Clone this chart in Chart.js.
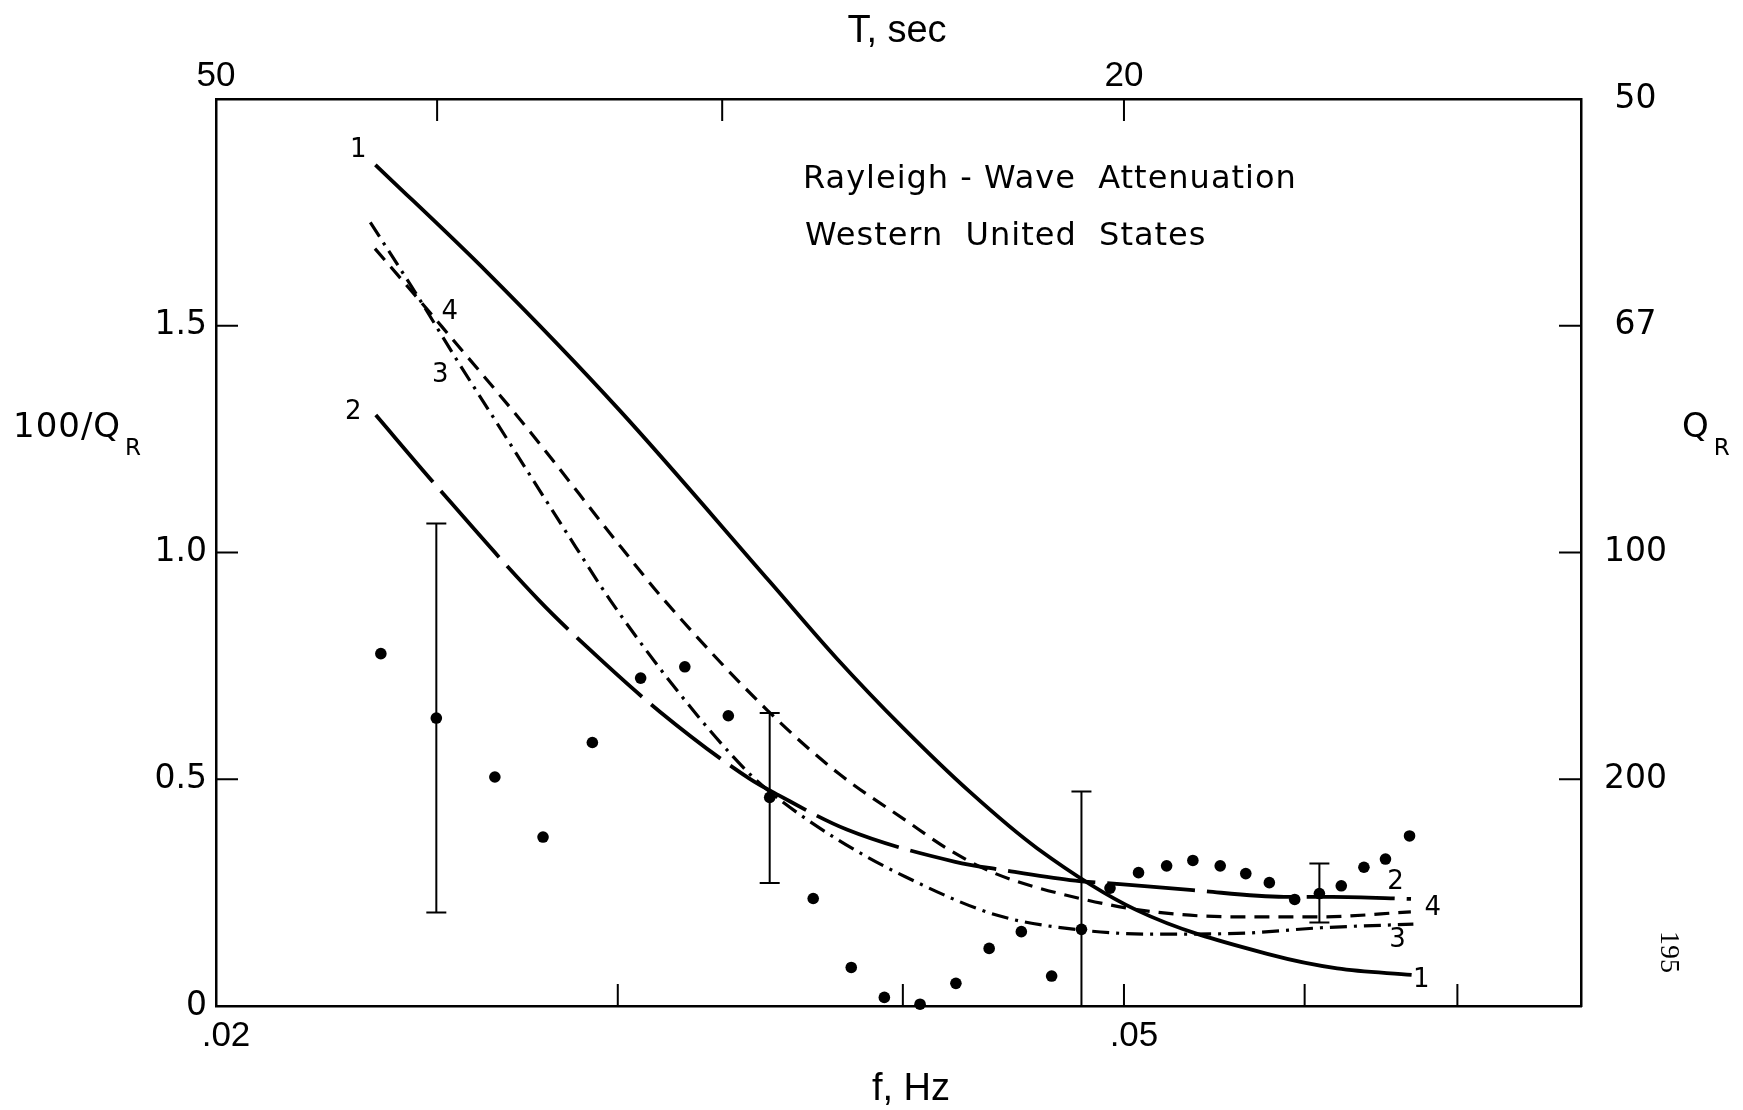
<!DOCTYPE html>
<html>
<head>
<meta charset="utf-8">
<script src="https://cdn.jsdelivr.net/npm/chart.js@4.4.1/dist/chart.umd.min.js"></script>
<style>
  html, body { margin: 0; padding: 0; background: #fff; }
  canvas { display: block; }
</style>
</head>
<body>
<canvas id="c" width="1743" height="1110"></canvas>
<script>
// ---------------- DATA ----------------
// frequency axis range (Hz)
const F_MIN = 0.02;
const F_MAX = 0.0793;
const INVQ_MIN = 0;
const INVQ_MAX = 2.0;

// bottom axis ticks (f, Hz)
const fTickValues = [0.02, 0.03, 0.04, 0.05, 0.06, 0.07];
const fTickLabels = ['.02', '', '', '.05', '', ''];
// top axis ticks (period T, sec)
const periodTickValues = [50, 40, 30, 20];
const periodTickLabels = ['50', '', '', '20'];
// left axis ticks (100/Q_R)
const invQTickValues = [0, 0.5, 1.0, 1.5];
const invQTickLabels = ['0', '0.5', '1.0', '1.5'];
// right axis ticks (Q_R)
const qTickValues = [0.5, 1.0, 1.5, 2.0];
const qTickLabels = ['200', '100', '67', '50'];

// curve 1 (solid)
const curve1F = [0.02349, 0.02633, 0.03005, 0.03497, 0.03741, 0.04002, 0.0428, 0.0458, 0.05067, 0.05801, 0.062, 0.06684];
const curve1V = [1.855, 1.615, 1.314, 0.936, 0.767, 0.6127, 0.472, 0.348, 0.2108, 0.1127, 0.083, 0.0686];

// curve 2 (long dashes)
const curve2F = [0.0235, 0.02496, 0.0277, 0.02912, 0.0313, 0.03425, 0.03528, 0.0378, 0.04217, 0.04427, 0.04735, 0.0498, 0.0536, 0.05877, 0.0617, 0.0668];
const curve2V = [1.303, 1.149, 0.895, 0.789, 0.649, 0.502, 0.465, 0.389, 0.318, 0.2996, 0.2775, 0.2686, 0.2554, 0.2407, 0.2407, 0.236];

// curve 3 (dash-dot)
const curve3F = [0.02337, 0.02455, 0.0255, 0.02652, 0.02875, 0.02977, 0.03201, 0.03425, 0.0352, 0.03748, 0.0401, 0.044, 0.0479, 0.0515, 0.05604, 0.06098, 0.06696];
const curve3V = [1.728, 1.56, 1.425, 1.29, 1.0125, 0.895, 0.682, 0.513, 0.461, 0.366, 0.285, 0.200, 0.1674, 0.1585, 0.160, 0.1725, 0.1806];

// curve 4 (short dashes)
const curve4F = [0.02348, 0.02455, 0.02512, 0.02742, 0.03009, 0.03144, 0.03488, 0.03748, 0.0401, 0.04194, 0.0439, 0.04782, 0.0515, 0.05604, 0.061, 0.06679];
const curve4V = [1.670, 1.557, 1.498, 1.27, 1.0125, 0.895, 0.6525, 0.513, 0.41, 0.3436, 0.2923, 0.2372, 0.2077, 0.1966, 0.1966, 0.2077];

// observed values (dots)
const obsF = [0.02362, 0.0265, 0.02782, 0.02924, 0.0307, 0.0321, 0.03354, 0.03654, 0.03797, 0.03926, 0.0407, 0.0422, 0.04364, 0.04508, 0.04648, 0.0493, 0.05074, 0.0522, 0.0536, 0.0551, 0.05654, 0.0579, 0.0594, 0.06226, 0.0637, 0.0651, 0.0667];
const obsV = [0.777, 0.505, 0.3725, 0.581, 0.723, 0.748, 0.640, 0.237, 0.085, 0.019, 0.004, 0.050, 0.127, 0.164, 0.066, 0.260, 0.294, 0.309, 0.321, 0.309, 0.292, 0.272, 0.235, 0.265, 0.306, 0.324, 0.375];

// values with error bars
const errF  = [0.02498, 0.03497, 0.0479, 0.0609];
const errV  = [0.635, 0.460, 0.169, 0.248];
const errLo = [0.206, 0.271, 0.0, 0.184];
const errHi = [1.064, 0.646, 0.473, 0.314];

// curve number labels: text and anchor (f, 100/Q)
const curveLabelText = ['1', '2', '3', '4', '2', '4', '3', '1'];
const curveLabelF = [0.02309, 0.02297, 0.02508, 0.02532, 0.06577, 0.06828, 0.06589, 0.0675];
const curveLabelV = [1.8875, 1.310, 1.391, 1.530, 0.2734, 0.2161, 0.1455, 0.0573];

// ---------------- CHART ----------------
const toXY = (fs, vs) => fs.map((f, i) => ({ x: f, y: vs[i] }));

const DEJAVU = '"DejaVu Sans", "Noto Sans", sans-serif';
const LIBSANS = '"Liberation Sans", Arial, sans-serif';
const TICK_IN = 22;

const lineBase = {
  borderColor: '#000',
  backgroundColor: '#000',
  pointRadius: 0,
  fill: false,
  cubicInterpolationMode: 'monotone',
  borderCapStyle: 'butt',
  borderJoinStyle: 'round'
};

const decorations = {
  id: 'decorations',
  afterDatasetsDraw(chart) {
    const { ctx, chartArea: ca } = chart;
    const { x, y, x2, y2 } = chart.scales;
    ctx.save();
    ctx.strokeStyle = '#000';
    ctx.fillStyle = '#000';

    // error bars
    ctx.lineWidth = 2;
    errF.forEach((f, i) => {
      const px = x.getPixelForValue(f);
      const pLo = y.getPixelForValue(errLo[i]);
      const pHi = y.getPixelForValue(errHi[i]);
      ctx.beginPath();
      ctx.moveTo(px, pLo); ctx.lineTo(px, pHi);
      ctx.moveTo(px - 10, pHi); ctx.lineTo(px + 10, pHi);
      if (errLo[i] > INVQ_MIN) { ctx.moveTo(px - 10, pLo); ctx.lineTo(px + 10, pLo); }
      ctx.stroke();
    });

    // inward tick marks
    ctx.lineWidth = 2;
    ctx.beginPath();
    x.ticks.forEach(t => {
      if (t.value <= x.min * 1.0001 || t.value >= x.max * 0.9999) return;
      const p = x.getPixelForValue(t.value);
      ctx.moveTo(p, ca.bottom); ctx.lineTo(p, ca.bottom - TICK_IN);
    });
    x2.ticks.forEach(t => {
      if (t.value <= x2.min * 1.0001 || t.value >= x2.max * 0.9999) return;
      const p = x2.getPixelForValue(t.value);
      ctx.moveTo(p, ca.top); ctx.lineTo(p, ca.top + TICK_IN);
    });
    y.ticks.forEach(t => {
      if (t.value <= y.min || t.value >= y.max) return;
      const p = y.getPixelForValue(t.value);
      ctx.moveTo(ca.left, p); ctx.lineTo(ca.left + TICK_IN, p);
    });
    y2.ticks.forEach(t => {
      if (t.value <= y2.min || t.value >= y2.max) return;
      const p = y2.getPixelForValue(t.value);
      ctx.moveTo(ca.right, p); ctx.lineTo(ca.right - TICK_IN, p);
    });
    ctx.stroke();

    // curve number labels
    ctx.font = '26px ' + DEJAVU;
    ctx.textAlign = 'center';
    ctx.textBaseline = 'middle';
    curveLabelText.forEach((t, i) => {
      ctx.fillText(t, x.getPixelForValue(curveLabelF[i]), y.getPixelForValue(curveLabelV[i]));
    });
    ctx.restore();
  },
  afterDraw(chart) {
    const { ctx } = chart;
    ctx.save();
    ctx.fillStyle = '#000';
    ctx.textBaseline = 'alphabetic';

    // chart title lines
    ctx.font = '32px ' + DEJAVU;
    ctx.textAlign = 'left';
    try { ctx.letterSpacing = '1px'; } catch (e) {}
    ctx.fillText('Rayleigh - Wave  Attenuation', 803, 188);
    ctx.fillText('Western  United  States', 805, 245);

    // left axis title 100/Q_R
    ctx.font = '34px ' + DEJAVU;
    ctx.fillText('100/Q', 13, 437);
    let w = ctx.measureText('100/Q').width;
    ctx.font = '23px ' + DEJAVU;
    ctx.fillText('R', 13 + w + 4, 455);

    // right axis title Q_R
    ctx.font = '34px ' + DEJAVU;
    ctx.fillText('Q', 1682, 437);
    w = ctx.measureText('Q').width;
    ctx.font = '23px ' + DEJAVU;
    ctx.fillText('R', 1682 + w + 4, 455);
    try { ctx.letterSpacing = '0px'; } catch (e) {}

    // top and bottom axis titles
    ctx.font = '38px ' + LIBSANS;
    ctx.textAlign = 'center';
    ctx.fillText('T, sec', 897, 42);
    ctx.fillText('f, Hz', 911, 1100);

    // page number (rotated)
    ctx.translate(1668, 952);
    ctx.rotate(Math.PI / 2);
    ctx.font = '28px "Liberation Serif", serif';
    ctx.textBaseline = 'middle';
    ctx.fillText('195', 0, 0);
    ctx.restore();
  }
};

Chart.defaults.color = '#000';

new Chart(document.getElementById('c'), {
  type: 'line',
  data: {
    datasets: [
      Object.assign({}, lineBase, { label: '1', data: toXY(curve1F, curve1V), borderWidth: 3.8 }),
      Object.assign({}, lineBase, { label: '2', data: toXY(curve2F, curve2V), borderWidth: 3.8, borderDash: [88, 12] }),
      Object.assign({}, lineBase, { label: '3', data: toXY(curve3F, curve3V), borderWidth: 3.2, borderDash: [17, 7, 3, 7] }),
      Object.assign({}, lineBase, { label: '4', data: toXY(curve4F, curve4V), borderWidth: 3.2, borderDash: [15, 9] }),
      { label: 'obs', data: toXY(obsF, obsV), showLine: false, pointRadius: 5.8, pointBorderWidth: 0,
        pointBackgroundColor: '#000', pointBorderColor: '#000', clip: false },
      { label: 'err', data: toXY(errF, errV), showLine: false, pointRadius: 5.8, pointBorderWidth: 0,
        pointBackgroundColor: '#000', pointBorderColor: '#000', clip: false }
    ]
  },
  options: {
    responsive: false,
    animation: false,
    devicePixelRatio: 1,
    layout: { padding: 0 },
    plugins: { legend: { display: false }, tooltip: { enabled: false } },
    scales: {
      x: {
        type: 'logarithmic', position: 'bottom', min: F_MIN, max: F_MAX, bounds: 'data',
        afterBuildTicks: s => { s.ticks = fTickValues.map(v => ({ value: v })); },
        afterFit: s => { s.height = 104; },
        grid: { display: true, drawOnChartArea: false, drawTicks: false },
        border: { display: true, color: '#000', width: 2.5 },
        ticks: { autoSkip: false, maxRotation: 0, minRotation: 0, padding: 9, labelOffset: 10,
          color: '#000', font: { family: LIBSANS, size: 35 },
          callback: (v, i) => fTickLabels[i] }
      },
      x2: {
        type: 'logarithmic', position: 'top', min: F_MIN, max: F_MAX, bounds: 'data',
        afterBuildTicks: s => { s.ticks = periodTickValues.map(T => ({ value: 1 / T })); },
        afterFit: s => { s.height = 99; },
        grid: { display: true, drawOnChartArea: false, drawTicks: false },
        border: { display: true, color: '#000', width: 2.5 },
        ticks: { autoSkip: false, maxRotation: 0, minRotation: 0, padding: 2,
          color: '#000', font: { family: LIBSANS, size: 35 },
          callback: (v, i) => periodTickLabels[i] }
      },
      y: {
        type: 'linear', position: 'left', min: INVQ_MIN, max: INVQ_MAX,
        afterBuildTicks: s => { s.ticks = invQTickValues.map(v => ({ value: v })); },
        afterFit: s => { s.width = 216; },
        grid: { display: true, drawOnChartArea: false, drawTicks: false },
        border: { display: true, color: '#000', width: 2.5 },
        ticks: { autoSkip: false, padding: 9, color: '#000', font: { family: DEJAVU, size: 33 },
          callback: (v, i) => invQTickLabels[i] }
      },
      y2: {
        type: 'linear', position: 'right', min: INVQ_MIN, max: INVQ_MAX,
        afterBuildTicks: s => { s.ticks = qTickValues.map(v => ({ value: v })); },
        afterFit: s => { s.width = 162; },
        grid: { display: true, drawOnChartArea: false, drawTicks: false },
        border: { display: true, color: '#000', width: 2.5 },
        ticks: { autoSkip: false, padding: 23, crossAlign: 'center', color: '#000',
          font: { family: DEJAVU, size: 33 },
          callback: (v, i) => qTickLabels[i] }
      }
    }
  },
  plugins: [decorations]
});
</script>
</body>
</html>
